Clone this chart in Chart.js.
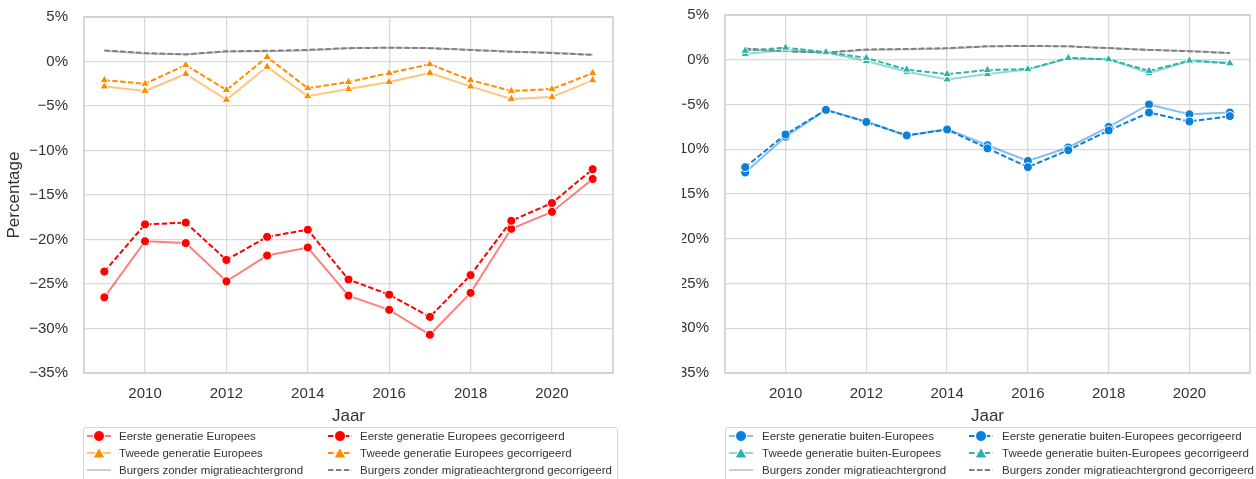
<!DOCTYPE html>
<html>
<head>
<meta charset="utf-8">
<script src="https://cdn.jsdelivr.net/npm/chart.js@4.4.1/dist/chart.umd.min.js"></script>
<style>
  body { margin: 0; background: #fff; width: 1256px; height: 479px; overflow: hidden; position: relative;
         font-family: "Liberation Sans", Arial, sans-serif; }
  #left { position: absolute; left: 0; top: 0; }
  #right-clip { position: absolute; left: 682px; top: 0; width: 574px; height: 428px; overflow: hidden; }
  #right { position: absolute; left: -52px; top: 0; }
  .legend { position: absolute; top: 427px; height: 60px; border: 1px solid #d5d5d5; border-radius: 3px;
            background: #fff; font-size: 11.5px; color: #333; }
  .item { position: absolute; height: 17px; line-height: 17px; white-space: nowrap; }
  .item svg { position: absolute; left: 0; top: 2px; }
  .item span { position: absolute; }
</style>
</head>
<body>
<canvas id="left" width="620" height="428"></canvas>
<div id="right-clip"><canvas id="right" width="626" height="428"></canvas></div>
<div class="legend" id="legend-left" style="left:83px;width:533px"></div>
<div class="legend" id="legend-right" style="left:725px;width:545px"></div>
<script>
// ---------------- Data ----------------
const years = [2009, 2010, 2011, 2012, 2013, 2014, 2015, 2016, 2017, 2018, 2019, 2020, 2021];
const yTicks = [5, 0, -5, -10, -15, -20, -25, -30, -35];

// left panel: Europees
const eersteEU     = [-26.5, -20.2, -20.4, -24.7, -21.8, -20.9, -26.3, -27.9, -30.7, -26.0, -18.8, -16.9, -13.2];
const eersteEUcorr = [-23.6, -18.3, -18.1, -22.3, -19.7, -18.9, -24.5, -26.2, -28.7, -24.0, -17.9, -15.9, -12.1];
const tweedeEU     = [-2.8, -3.3, -1.4, -4.3, -0.6, -3.9, -3.1, -2.3, -1.3, -2.8, -4.2, -4.0, -2.1];
const tweedeEUcorr = [-2.1, -2.5, -0.4, -3.2, 0.5, -3.0, -2.3, -1.3, -0.3, -2.1, -3.3, -3.1, -1.3];

// right panel: buiten-Europees
const eersteNW     = [-12.6, -8.6, -5.6, -6.9, -8.5, -7.75, -9.55, -11.3, -9.8, -7.5, -5.0, -6.1, -5.9];
const eersteNWcorr = [-12.0, -8.35, -5.6, -6.95, -8.45, -7.8, -9.9, -12.0, -10.1, -7.9, -5.9, -6.9, -6.3];
const tweedeNW     = [0.65, 1.1, 0.8, -0.15, -1.35, -2.2, -1.6, -1.1, 0.15, 0.05, -1.5, -0.15, -0.3];
const tweedeNWcorr = [1.0, 1.35, 0.85, 0.2, -1.1, -1.6, -1.15, -1.05, 0.2, 0.05, -1.25, -0.1, -0.4];

// both panels
const burgers      = [1.2, 0.9, 0.8, 1.1, 1.15, 1.25, 1.5, 1.55, 1.5, 1.3, 1.1, 1.0, 0.75];
const burgersCorr  = [1.25, 0.95, 0.8, 1.15, 1.2, 1.3, 1.5, 1.55, 1.5, 1.3, 1.1, 0.95, 0.75];

// ---------------- Helpers ----------------
const RED = "#ff0000", ORANGE = "#ff8c00", GRAY = "#808080", BLUE = "#0a80db", TEAL = "#2ab4ac";
const DASH = [5.5, 2.4];

function fade(hex, a) {
  const n = parseInt(hex.slice(1), 16);
  return `rgba(${n >> 16},${(n >> 8) & 255},${n & 255},${a})`;
}

function series(label, values, color, dashed, marker, order) {
  return {
    label,
    data: years.map((y, i) => ({ x: y, y: values[i] })),
    borderColor: dashed ? color : fade(color, 0.5),
    borderWidth: marker ? 2 : (dashed ? 2 : 1.8),
    borderDash: dashed ? DASH : [],
    pointStyle: marker || false,
    pointRadius: marker ? (marker === "triangle" ? 5 : 4.5) : 0,
    pointBackgroundColor: color,
    pointBorderColor: "#ffffff",
    pointBorderWidth: 1,
    tension: 0,
    fill: false,
    order,
    _color: color, _dashed: dashed, _marker: marker
  };
}

const framePlugin = {
  id: "frame",
  beforeDatasetsDraw(chart) {
    const { ctx, chartArea: a } = chart;
    ctx.save();
    ctx.strokeStyle = "#cccccc";
    ctx.lineWidth = 1.5;
    ctx.strokeRect(a.left, a.top, a.right - a.left, a.bottom - a.top);
    ctx.restore();
  }
};

function pct(v) {
  return v < 0 ? "\u2212" + Math.abs(v) + "%" : v + "%";
}

function makeChart(canvasId, datasets, yWidth, padTop, padRight, showYTitle) {
  return new Chart(document.getElementById(canvasId), {
    type: "line",
    data: { datasets },
    plugins: [framePlugin],
    options: {
      responsive: false,
      animation: false,
      layout: { padding: { top: padTop, right: padRight, left: 0, bottom: 0 } },
      plugins: { legend: { display: false }, tooltip: { enabled: false } },
      scales: {
        x: {
          type: "linear", min: 2008.5, max: 2021.5,
          grid: { color: "#d9d9d9", lineWidth: 1.3, drawTicks: false },
          border: { display: false },
          ticks: { stepSize: 2, includeBounds: false, padding: 12, color: "#333",
                   font: { family: "Liberation Sans", size: 15 }, callback: v => String(v) },
          title: { display: true, text: "Jaar", color: "#333", padding: { top: 0, bottom: 1 },
                   font: { family: "Liberation Sans", size: 17 } },
          afterFit: s => { s.height = 55; s.paddingLeft = 0; s.paddingRight = 0; }
        },
        y: {
          min: -35, max: 5,
          grid: { color: "#d9d9d9", lineWidth: 1.3, drawTicks: false },
          border: { display: false },
          afterBuildTicks: s => { s.ticks = yTicks.map(v => ({ value: v })); },
          ticks: { padding: 16, color: "#333", font: { family: "Liberation Sans", size: 15 }, callback: pct },
          title: { display: showYTitle, text: "Percentage", color: "#333", padding: { top: 4, bottom: 0 },
                   font: { family: "Liberation Sans", size: 17 } },
          afterFit: s => { s.width = yWidth; s.paddingTop = 0; s.paddingBottom = 0; }
        }
      }
    }
  });
}

// ---------------- Charts ----------------
const leftSets = [
  series("Eerste generatie Europees", eersteEU, RED, false, "circle", 2),
  series("Tweede generatie Europees", tweedeEU, ORANGE, false, "triangle", 4),
  series("Burgers zonder migratieachtergrond", burgers, GRAY, false, null, 6),
  series("Eerste generatie Europees gecorrigeerd", eersteEUcorr, RED, true, "circle", 1),
  series("Tweede generatie Europees gecorrigeerd", tweedeEUcorr, ORANGE, true, "triangle", 3),
  series("Burgers zonder migratieachtergrond gecorrigeerd", burgersCorr, GRAY, true, null, 5)
];
const rightSets = [
  series("Eerste generatie buiten-Europees", eersteNW, BLUE, false, "circle", 2),
  series("Tweede generatie buiten-Europees", tweedeNW, TEAL, false, "triangle", 4),
  series("Burgers zonder migratieachtergrond", burgers, GRAY, false, null, 6),
  series("Eerste generatie buiten-Europees gecorrigeerd", eersteNWcorr, BLUE, true, "circle", 1),
  series("Tweede generatie buiten-Europees gecorrigeerd", tweedeNWcorr, TEAL, true, "triangle", 3),
  series("Burgers zonder migratieachtergrond gecorrigeerd", burgersCorr, GRAY, true, null, 5)
];

makeChart("left", leftSets, 84, 17, 7, true);
makeChart("right", rightSets, 95, 15, 1, false);

// ---------------- Legends ----------------
function markerSvg(ds) {
  const line = ds._dashed
    ? `<line x1="0" y1="6" x2="24" y2="6" stroke="${ds._color}" stroke-width="2" stroke-dasharray="${DASH.join(" ")}"/>`
    : `<line x1="0" y1="6" x2="24" y2="6" stroke="${fade(ds._color, 0.5)}" stroke-width="${ds._marker ? 2 : 1.6}"/>`;
  let mark = "";
  if (ds._marker === "circle") mark = `<circle cx="12" cy="6" r="5.5" fill="${ds._color}" stroke="#fff" stroke-width="1"/>`;
  if (ds._marker === "triangle") mark = `<polygon points="12,0.5 18,11 6,11" fill="${ds._color}" stroke="#fff" stroke-width="1"/>`;
  return `<svg width="24" height="12">${line}${mark}</svg>`;
}

function buildLegend(id, sets, col2, textGap) {
  const box = document.getElementById(id);
  sets.forEach((ds, i) => {
    const col = i < 3 ? 0 : 1;
    const row = i % 3;
    const div = document.createElement("div");
    div.className = "item";
    div.style.left = (col === 0 ? 3 : col2) + "px";
    div.style.top = (row * 16.8) + "px";
    div.innerHTML = markerSvg(ds) + `<span style="left:${textGap}px">${ds.label}</span>`;
    box.appendChild(div);
  });
}

buildLegend("legend-left", leftSets, 244, 32);
buildLegend("legend-right", rightSets, 243, 33);
</script>
</body>
</html>
